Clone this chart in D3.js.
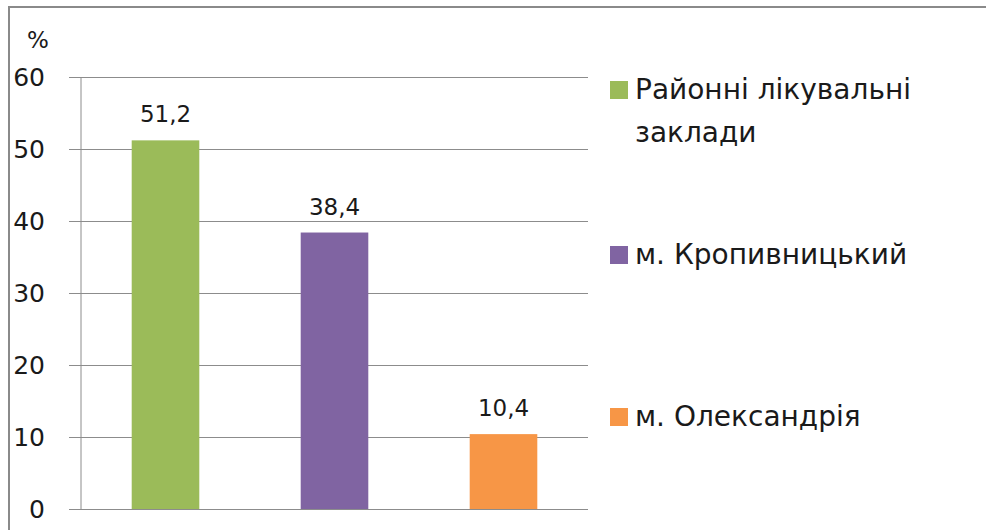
<!DOCTYPE html>
<html>
<head>
<meta charset="utf-8">
<script src="https://cdn.jsdelivr.net/npm/d3@7"></script>
<style>
  body { margin: 0; background: #fff; }
  svg text { font-family: "DejaVu Sans"; }
</style>
</head>
<body>
<div id="chart"></div>
<script>
// chart data
var categories = ["Районні лікувальні заклади", "м. Кропивницький", "м. Олександрія"];
var values = [51.2, 38.4, 10.4];
var valueLabels = ["51,2", "38,4", "10,4"];
var yTicks = [0, 10, 20, 30, 40, 50, 60];
var legendLines = [["Районні лікувальні", "заклади"], ["м. Кропивницький"], ["м. Олександрія"]];
var colors = ["#9bbb59", "#8064a2", "#f79646"];

var W = 986, H = 530;
var margin = {top: 77, right: 398, bottom: 21, left: 81},
    width = W - margin.left - margin.right,
    height = H - margin.top - margin.bottom;

var svg = d3.select("#chart")
  .append("svg")
    .attr("width", W)
    .attr("height", H);

// outer frame
svg.append("path")
  .attr("d", "M9," + H + "V7H" + W)
  .attr("fill", "none")
  .attr("stroke", "#8a8a8a")
  .attr("stroke-width", 2);

var g = svg.append("g")
  .attr("transform", "translate(" + margin.left + "," + margin.top + ")");

var x = d3.scaleBand()
  .domain(categories)
  .range([0, width])
  .paddingInner(0.6)
  .paddingOuter(0.3);

var y = d3.scaleLinear()
  .domain([0, 60])
  .range([height, 0]);

// grid lines with tick stubs on the left
g.append("g")
  .call(d3.axisLeft(y).tickValues(yTicks).tickSize(-width - 12).tickFormat(""))
  .attr("transform", "translate(-12,0)")
  .call(function(a) {
    a.select(".domain").remove();
    a.selectAll("line").attr("stroke", "#8c8c8c");
  });

// y axis line
g.append("line")
  .attr("x1", 0).attr("x2", 0)
  .attr("y1", 0).attr("y2", height)
  .attr("stroke", "#8c8c8c");

// tick labels
g.selectAll(".ylab")
  .data(yTicks)
  .enter()
  .append("text")
    .attr("class", "ylab")
    .attr("x", -36)
    .attr("y", function(d) { return y(d); })
    .attr("dy", "0.36em")
    .attr("text-anchor", "end")
    .attr("fill", "#1a1a1a")
    .style("font-size", "25px")
    .text(function(d) { return d; });

// unit label
svg.append("text")
  .attr("x", 27)
  .attr("y", 48)
  .attr("fill", "#1a1a1a")
  .style("font-size", "23px")
  .text("%");

// bars
g.selectAll("rect.bar")
  .data(values)
  .enter()
  .append("rect")
    .attr("class", "bar")
    .attr("x", function(d, i) { return x(categories[i]); })
    .attr("y", function(d) { return y(d); })
    .attr("width", x.bandwidth())
    .attr("height", function(d) { return height - y(d); })
    .attr("fill", function(d, i) { return colors[i]; });

// value labels
g.selectAll(".vlab")
  .data(values)
  .enter()
  .append("text")
    .attr("class", "vlab")
    .attr("x", function(d, i) { return x(categories[i]) + x.bandwidth() / 2; })
    .attr("y", function(d) { return y(d) - 18; })
    .attr("text-anchor", "middle")
    .attr("fill", "#1a1a1a")
    .style("font-size", "23px")
    .text(function(d, i) { return valueLabels[i]; });

// legend
var legendY = [99, 264, 426];
var legend = svg.selectAll(".legend")
  .data(categories)
  .enter()
  .append("g")
    .attr("class", "legend")
    .attr("transform", function(d, i) { return "translate(610," + legendY[i] + ")"; });

legend.append("rect")
  .attr("x", 0)
  .attr("y", -18)
  .attr("width", 18)
  .attr("height", 18)
  .attr("fill", function(d, i) { return colors[i]; });

legend.append("text")
  .attr("x", 25)
  .attr("y", 0)
  .attr("fill", "#1a1a1a")
  .style("font-size", "28px")
  .selectAll("tspan")
  .data(function(d, i) { return legendLines[i]; })
  .enter()
  .append("tspan")
    .attr("x", 25)
    .attr("dy", function(d, j) { return j === 0 ? 0 : 43; })
    .text(function(d) { return d; });
</script>
</body>
</html>
